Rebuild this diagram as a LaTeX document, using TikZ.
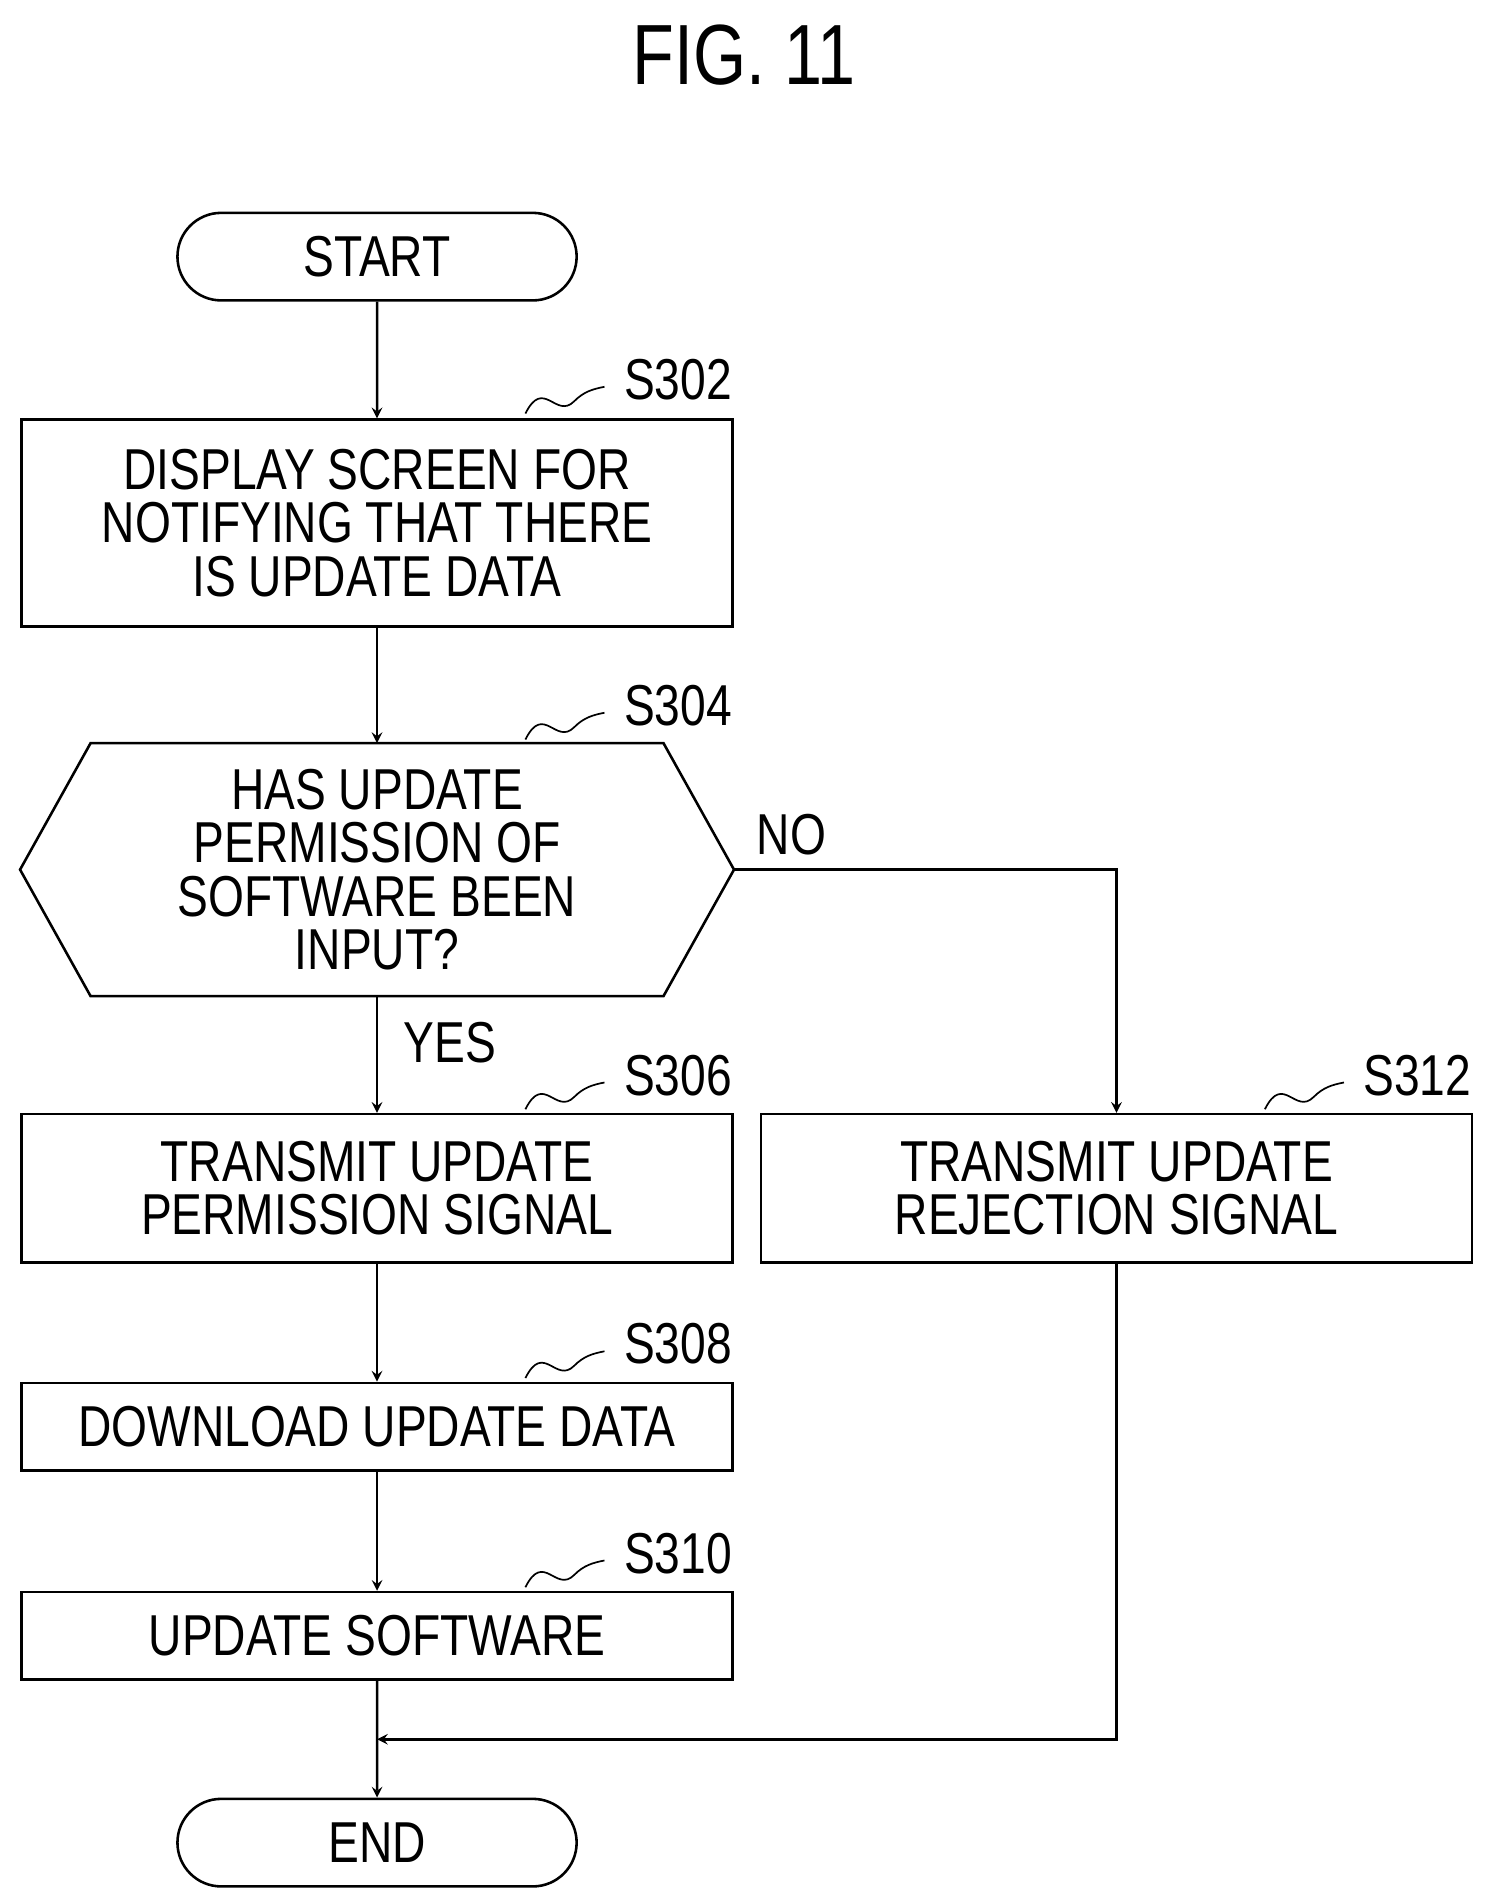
\documentclass[tikz,border=0pt]{standalone}
\usepackage{fontspec}
\setmainfont[FakeStretch=0.8]{Liberation Sans}
\usetikzlibrary{shapes.misc}

\begin{document}
\begin{tikzpicture}[x=0.02cm,y=-0.02cm,>=stealth,line width=1.2pt,
    every node/.style={font=\fontsize{27}{25}\selectfont,align=center},
    box/.style={draw,rectangle,minimum width=11.7cm,inner sep=0pt},
    term/.style={draw,rounded rectangle,minimum width=6.8cm,minimum height=1.44cm},
    steplab/.style={anchor=west,inner sep=0pt}]
    \useasboundingbox (0,0) rectangle (1225,1563);
    \node (fig) at (612,45) {\fontsize{40}{40}\selectfont FIG. 11};

    \node[term] (start) at (310,211) {START};
    \node[box,minimum height=3.4cm] (s302) at (310,430)
    {DISPLAY SCREEN FOR\\NOTIFYING THAT THERE\\IS UPDATE DATA};
    \node[minimum width=11.7cm,minimum height=4.12cm,inner sep=0pt] (s304) at (310,715)
    {HAS UPDATE\\PERMISSION OF\\SOFTWARE BEEN\\INPUT?};
    \draw ([xshift=1.16cm]s304.north west) -- ([xshift=-1.16cm]s304.north east)
    -- (s304.east) -- ([xshift=-1.16cm]s304.south east)
    -- ([xshift=1.16cm]s304.south west) -- (s304.west) -- cycle;
    \node[box,minimum height=2.44cm] (s306) at (310,977)
    {TRANSMIT UPDATE\\PERMISSION SIGNAL};
    \node[box,minimum height=2.44cm] (s312) at (918,977)
    {TRANSMIT UPDATE\\REJECTION SIGNAL};
    \node[box,minimum height=1.44cm] (s308) at (310,1173) {DOWNLOAD UPDATE DATA};
    \node[box,minimum height=1.44cm] (s310) at (310,1345) {UPDATE SOFTWARE};
    \node[term] (end) at (310,1515) {END};
    \coordinate (join) at (310,1430);

    % step labels
    \foreach \n/\x/\y in {S302/432/340,S304/432/608,S306/432/912,S308/432/1133,S310/432/1305,S312/1040/912}
    {
      \draw[line width=0.8pt] (\x,\y) .. controls (\x+15,\y-30) and (\x+25,\y+5) .. (\x+40,\y-10)
      .. controls (\x+48,\y-18) and (\x+55,\y-20) .. (\x+65,\y-22);
      \node[steplab] (l\n) at (\x+80,\y-28) {\n};
    }

    \draw[->] (start) -- (s302);
    \draw[->] (s302) -- (s304);
    \draw[->] (s304) -- node[right,pos=0.4,xshift=0.3cm] {YES} (s306);
    \draw[->] (s304.east) -- node[above,pos=0.15,yshift=0.1cm] {NO} (918,715) -- (s312);
    \draw[->] (s306) -- (s308);
    \draw[->] (s308) -- (s310);
    \draw[->] (s310) -- (end);
    \draw[->] (s312) -- (918,1430) -- (join);
\end{tikzpicture}
\end{document}
